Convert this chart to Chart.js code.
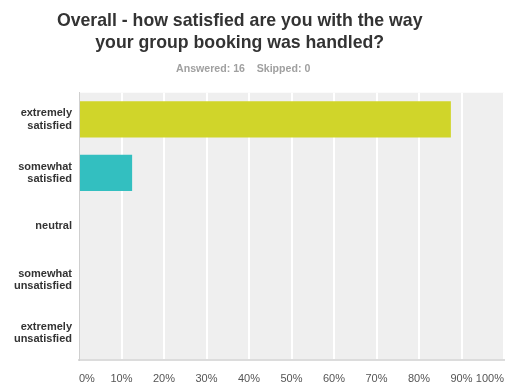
<!DOCTYPE html>
<html>
<head>
<meta charset="utf-8">
<script src="https://cdn.jsdelivr.net/npm/chart.js@4"></script>
<style>
  html, body { margin: 0; padding: 0; background: #fff; }
  #wrap { width: 517px; height: 392px; position: relative; }
</style>
</head>
<body>
<div id="wrap"><canvas id="surveyChart"></canvas></div>
<script>
// answer choices and share of respondents (%)
const categories = [
  ['extremely', 'satisfied'],
  ['somewhat', 'satisfied'],
  'neutral',
  ['somewhat', 'unsatisfied'],
  ['extremely', 'unsatisfied']
];
const percentages = [87.5, 12.5, 0, 0, 0];
const barColors = ['#d0d52a', '#33bfc0', '#d0d52a', '#d0d52a', '#d0d52a'];
const tickValues = [0, 10, 20, 30, 40, 50, 60, 70, 80, 90, 100];

// grey plot background
const plotBackground = {
  id: 'plotBackground',
  beforeDraw(chart) {
    const { ctx, chartArea } = chart;
    ctx.save();
    ctx.fillStyle = '#efefef';
    ctx.fillRect(chartArea.left, chartArea.top, chartArea.right - chartArea.left, chartArea.bottom - chartArea.top);
    ctx.restore();
  }
};

const font = "'Liberation Sans', Arial, sans-serif";

// trailing spaces nudge the centred headings a bit left, like the original
new Chart(document.getElementById('surveyChart'), {
  type: 'bar',
  data: {
    labels: categories,
    datasets: [{
      data: percentages,
      backgroundColor: barColors,
      borderWidth: 0,
      categoryPercentage: 1,
      barPercentage: 0.68
    }]
  },
  options: {
    indexAxis: 'y',
    responsive: true,
    maintainAspectRatio: false,
    animation: false,
    layout: { padding: { left: 0, right: 13, top: 0, bottom: 0 } },
    plugins: {
      legend: { display: false },
      tooltip: { enabled: false },
      title: {
        display: true,
        text: ['Overall - how satisfied are you with the way     ', 'your group booking was handled?     '],
        color: '#333',
        font: { family: font, size: 17.7, weight: 'bold', lineHeight: '22px' },
        padding: { top: 10, bottom: 0 }
      },
      subtitle: {
        display: true,
        text: 'Answered: 16    Skipped: 0      ',
        color: '#a0a0a0',
        font: { family: font, size: 10.6, weight: 'bold' },
        padding: { top: 9, bottom: 17 }
      }
    },
    scales: {
      x: {
        min: 0,
        max: 100,
        afterBuildTicks(scale) {
          scale.ticks = tickValues.map(v => ({ value: v }));
        },
        afterFit(scale) {
          scale.height = 32;
          scale.paddingLeft = 0;
          scale.paddingRight = 0;
        },
        ticks: {
          callback: v => v + '%',
          color: '#555',
          font: { family: font, size: 11 },
          padding: 12,
          align: 'inner',
          maxRotation: 0
        },
        grid: { color: '#ffffff', lineWidth: 2, drawTicks: false },
        border: { display: true, color: '#dcdcdc', width: 2 }
      },
      y: {
        afterFit(scale) { scale.width = 79; },
        ticks: {
          color: '#333',
          font: { family: font, size: 11, weight: 'bold', lineHeight: 1.1 },
          padding: 7
        },
        grid: { display: false, drawTicks: false },
        border: { display: true, color: '#cfcfcf', width: 1 }
      }
    }
  },
  plugins: [plotBackground]
});
</script>
</body>
</html>
